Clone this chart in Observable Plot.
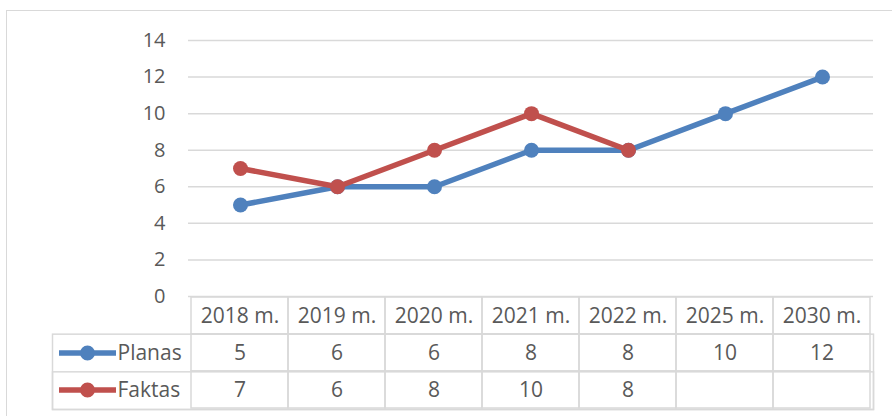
<!DOCTYPE html>
<html>
<head>
<meta charset="utf-8">
<script src="https://cdn.jsdelivr.net/npm/d3@7"></script>
<script src="https://cdn.jsdelivr.net/npm/@observablehq/plot@0.6"></script>
<style>
  html, body { margin: 0; padding: 0; background: #ffffff; }
  #wrap { position: relative; width: 892px; height: 416px; overflow: hidden; background: #ffffff; }
  #border { position: absolute; left: 6px; top: 10px; width: 920px; height: 440px; border: 1.5px solid #d9d9d9; box-sizing: border-box; }
  #chart { position: absolute; left: 0; top: 0; }
  #table { position: absolute; left: 0; top: 296px; }
  svg { overflow: visible; }
</style>
</head>
<body>
<div id="wrap">
  <div id="border"></div>
  <div id="chart"></div>
  <div id="table"></div>
</div>
<script>
// ---- data ----
const categories = ["2018 m.", "2019 m.", "2020 m.", "2021 m.", "2022 m.", "2025 m.", "2030 m."];
const planas = [5, 6, 6, 8, 8, 10, 12];
const faktas = [7, 6, 8, 10, 8, null, null];
const seriesNames = ["Planas", "Faktas"];
const seriesColors = ["#4f81bd", "#c0504d"];
const yTicks = [0, 2, 4, 6, 8, 10, 12, 14];
const tableRows = ["head", "Planas", "Faktas"];

const seriesValues = {Planas: planas, Faktas: faktas};
const points = seriesNames.flatMap(s =>
  categories.map((c, i) => ({series: s, cat: c, value: seriesValues[s][i]}))
);

const font = "'Open Sans', 'Noto Sans', sans-serif";
const textColor = "#595959";
const gridColor = "#d9d9d9";

// ---- chart ----
const chartMarks = [
  Plot.ruleY(yTicks, {stroke: gridColor, strokeWidth: 1.5})
];
for (const s of seriesNames) {
  const d = points.filter(p => p.series === s && p.value != null);
  chartMarks.push(Plot.line(d, {x: "cat", y: "value", stroke: "series", strokeWidth: 5.5, strokeLinejoin: "round", strokeLinecap: "round"}));
  chartMarks.push(Plot.dot(d, {x: "cat", y: "value", fill: "series", r: 7.5, stroke: "none"}));
}

const chart = Plot.plot({
  width: 892,
  height: 297,
  marginLeft: 188,
  marginRight: 19,
  marginTop: 40,
  marginBottom: 1,
  style: {fontFamily: font, fontSize: "20px", color: textColor, background: "transparent", overflow: "visible"},
  x: {type: "point", domain: categories, padding: 0.5, axis: null},
  y: {domain: [0, 14], ticks: yTicks, tickSize: 0, tickPadding: 23, label: null},
  color: {domain: seriesNames, range: seriesColors},
  marks: chartMarks
});
document.getElementById("chart").appendChild(chart);

// ---- data table ----
const tableHeight = 113;
const rowH = tableHeight / tableRows.length;
const cells = tableRows.flatMap(r => categories.map(c => ({row: r, cat: c})));
const headerTexts = categories.map(c => ({row: "head", cat: c, label: c}));
const valueTexts = points.filter(p => p.value != null).map(p => ({row: p.series, cat: p.cat, label: String(p.value)}));

const legendSymbol = {
  draw(context) {
    context.rect(-28.5, -2.75, 57, 5.5);
    context.moveTo(7.5, 0);
    context.arc(0, 0, 7.5, 0, 2 * Math.PI);
    context.closePath();
  }
};

const table = Plot.plot({
  width: 892,
  height: 120,
  marginLeft: 52,
  marginRight: 19,
  marginTop: 0,
  marginBottom: 120 - tableHeight,
  style: {fontFamily: font, fontSize: "21px", color: textColor, background: "transparent", overflow: "visible"},
  x: {type: "band", domain: categories, range: [188, 873], padding: 0, axis: null},
  y: {type: "band", domain: tableRows, padding: 0, axis: null},
  color: {domain: seriesNames, range: seriesColors},
  marks: [
    Plot.cell(cells, {x: "cat", y: "row", fill: "none", stroke: gridColor, strokeWidth: 1.5, inset: 0}),
    Plot.frame({stroke: gridColor, strokeWidth: 1.5, insetTop: rowH}),
    Plot.frame({stroke: gridColor, strokeWidth: 1.5, insetTop: 2 * rowH}),
    Plot.text(headerTexts, {x: "cat", y: "row", text: "label", fill: textColor, fontSize: 21}),
    Plot.text(valueTexts, {x: "cat", y: "row", text: "label", fill: textColor, fontSize: 21}),
    Plot.dot(seriesNames, {y: d => d, fill: d => d, frameAnchor: "left", dx: 35, symbol: legendSymbol, r: 7.5, stroke: "none"}),
    Plot.text(seriesNames, {y: d => d, text: d => d, frameAnchor: "left", textAnchor: "start", dx: 65, fill: textColor, fontSize: 21})
  ]
});
document.getElementById("table").appendChild(table);
</script>
</body>
</html>
